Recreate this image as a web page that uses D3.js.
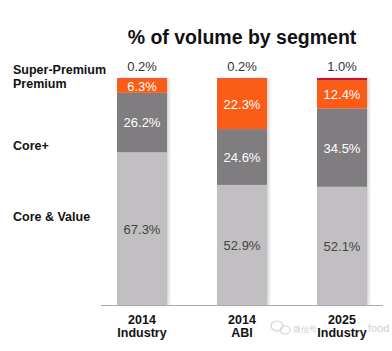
<!DOCTYPE html>
<html>
<head>
<meta charset="utf-8">
<script src="https://cdn.jsdelivr.net/npm/d3@7"></script>
<style>
  body { margin: 0; background: #fff; }
  text { font-family: "Liberation Sans", Arial, sans-serif; }
</style>
</head>
<body>
<svg id="chart" width="392" height="351"></svg>
<script>
// data
var groups = ["2014 Industry", "2014 ABI", "2025 Industry"];
var groupYear = ["2014", "2014", "2025"];
var groupName = ["Industry", "ABI", "Industry"];
var segments = ["Core & Value", "Core+", "Premium", "Super-Premium"];
var coreValue = [67.3, 52.9, 52.1];
var corePlus = [26.2, 24.6, 34.5];
var premium = [6.3, 22.3, 12.4];
var superPremium = [0.2, 0.2, 1.0];
var segColors = ["#c1bfc1", "#7f7d7f", "#fb5b12", "#c4122c"];
var labelColors = ["#444", "#fff", "#fff", "#333"];

var svg = d3.select("#chart");

var defs = svg.append("defs");
var f = defs.append("filter").attr("id", "shadow").attr("x", "-20%").attr("width", "140%");
f.append("feDropShadow").attr("dx", 2).attr("dy", 0).attr("stdDeviation", 1.5)
  .attr("flood-color", "#000").attr("flood-opacity", 0.18);

var x = d3.scaleBand().domain(groups).range([92, 392]).paddingInner(0.5).paddingOuter(0.25);
var y = d3.scaleLinear().domain([0, 100]).range([305, 78]);

var rows = groups.map(function(g, i) {
  return {group: g, "Core & Value": coreValue[i], "Core+": corePlus[i], "Premium": premium[i], "Super-Premium": superPremium[i]};
});
var stack = d3.stack().keys(segments)(rows);

// watermark (faint, behind everything)
var wm = svg.append("g").attr("fill", "none").attr("stroke", "#d4d4d4").attr("stroke-width", 1.2);
wm.append("ellipse").attr("cx", 277).attr("cy", 326).attr("rx", 6).attr("ry", 5);
wm.append("ellipse").attr("cx", 285).attr("cy", 330).attr("rx", 5).attr("ry", 4);
svg.append("text")
  .attr("x", 293).attr("y", 332)
  .attr("font-size", "8px").attr("fill", "#cfcfcf")
  .attr("font-family", "Noto Sans CJK SC, sans-serif")
  .text("微信号");
svg.append("text")
  .attr("x", 368).attr("y", 332)
  .attr("font-size", "11px").attr("fill", "#cfcfcf")
  .text("food");

// title
svg.append("text")
  .attr("x", 242).attr("y", 44)
  .attr("text-anchor", "middle")
  .attr("font-size", "19.5px").attr("font-weight", "bold")
  .attr("fill", "#111")
  .text("% of volume by segment");

// bars
var barG = svg.append("g").attr("filter", "url(#shadow)");
var layer = barG.selectAll("g")
  .data(stack).enter().append("g")
  .attr("fill", function(d, i) { return segColors[i]; });

layer.selectAll("rect")
  .data(function(d) { return d; })
  .enter().append("rect")
  .attr("x", function(d) { return x(d.data.group); })
  .attr("width", x.bandwidth())
  .attr("y", function(d) { return y(d[1]); })
  .attr("height", function(d) { return y(d[0]) - y(d[1]); });

// value labels
stack.forEach(function(s, si) {
  svg.append("g").selectAll("text")
    .data(s).enter().append("text")
    .attr("x", function(d) { return x(d.data.group) + x.bandwidth() / 2; })
    .attr("y", function(d) {
      if (si == 3) return y(100) - 7;
      return (y(d[0]) + y(d[1])) / 2 + 5;
    })
    .attr("text-anchor", "middle")
    .attr("font-size", "13px")
    .attr("fill", labelColors[si])
    .text(function(d) { return (d[1] - d[0]).toFixed(1) + "%"; });
});

// baseline
svg.append("line")
  .attr("x1", 101).attr("x2", 383)
  .attr("y1", y(0) + 0.5).attr("y2", y(0) + 0.5)
  .attr("stroke", "#aaa").attr("stroke-width", 1);

// x labels
var xl = svg.append("g").selectAll("text")
  .data(groups).enter().append("text")
  .attr("text-anchor", "middle")
  .attr("font-weight", "bold")
  .attr("font-size", "12.5px")
  .attr("fill", "#111")
  .attr("x", function(d) { return x(d) + x.bandwidth() / 2; });
xl.append("tspan").attr("y", 324)
  .attr("x", function(d) { return x(d) + x.bandwidth() / 2; })
  .text(function(d, i) { return groupYear[i]; });
xl.append("tspan").attr("y", 337)
  .attr("x", function(d) { return x(d) + x.bandwidth() / 2; })
  .text(function(d, i) { return groupName[i]; });

// segment legend on the left
var legendText = ["Super-Premium", "Premium", "Core+", "Core & Value"];
var legendY = [74, 88, 150, 221];
svg.append("g").selectAll("text")
  .data(legendText).enter().append("text")
  .attr("x", 13)
  .attr("y", function(d, i) { return legendY[i]; })
  .attr("font-size", "12.5px").attr("font-weight", "bold")
  .attr("fill", "#111")
  .text(function(d) { return d; });
</script>
</body>
</html>
